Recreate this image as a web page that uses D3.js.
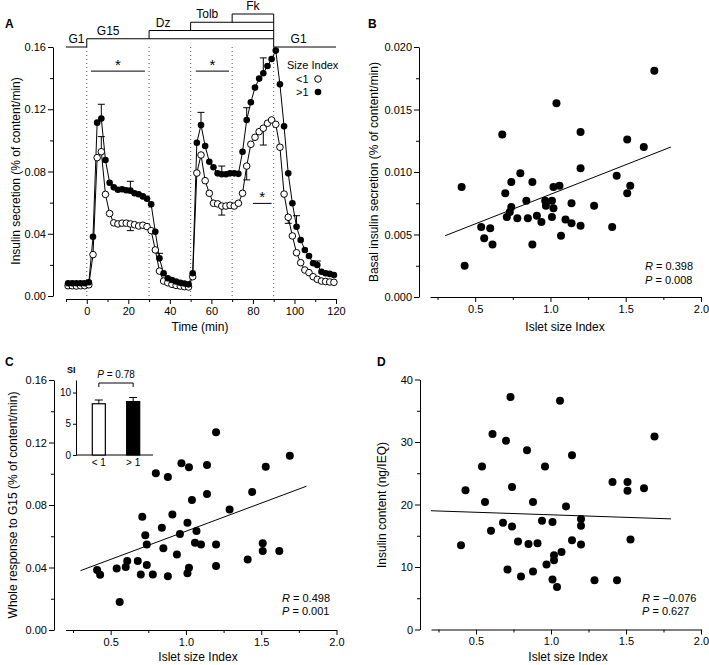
<!DOCTYPE html>
<html><head><meta charset="utf-8">
<script src="https://cdn.jsdelivr.net/npm/d3@7"></script>
<style>
body{margin:0;background:#fff}
svg text{font-family:"Liberation Sans",Arial,sans-serif;fill:#000}
</style>
</head><body>
<svg id="c" width="709" height="665"></svg>
<script>
// ---------- Panel A data ----------
const timeMin = [-9,-7,-5,-3,-1,1,3,5,7,9,11,13,15,17,19,21,23,25,27,29,31,33,35,37,39,41,43,45,47,49,51,53,55,57,59,61,63,65,67,69,71,73,75,77,79,81,83,85,87,89,91,93,95,97,99,101,103,105,107,109,111,113,115,117,119];
const sizeGt1 = [0.0082,0.0082,0.0082,0.0082,0.0082,0.0088,0.038,0.1114,0.114,0.0874,0.0728,0.0698,0.0683,0.0686,0.068,0.0677,0.066,0.0654,0.064,0.0625,0.0589,0.0413,0.0242,0.0146,0.0114,0.0103,0.0093,0.0085,0.008,0.0075,0.0146,0.0985,0.1099,0.0964,0.0863,0.0827,0.0788,0.0782,0.0782,0.0788,0.0788,0.0785,0.0927,0.1131,0.1245,0.1339,0.1397,0.1431,0.1478,0.1523,0.1577,0.136,0.109,0.0788,0.0596,0.0445,0.036,0.0296,0.0257,0.021,0.0199,0.0156,0.0146,0.0142,0.0135];
const sizeLt1 = [0.0066,0.0066,0.0064,0.0066,0.0066,0.0072,0.0266,0.0889,0.0927,0.0653,0.053,0.047,0.0463,0.0468,0.0468,0.0463,0.0458,0.045,0.0455,0.0446,0.042,0.0296,0.016,0.0096,0.0085,0.0075,0.0068,0.0064,0.006,0.0058,0.0124,0.079,0.0906,0.0741,0.066,0.0596,0.0592,0.0578,0.0578,0.0583,0.0578,0.0596,0.066,0.0835,0.0975,0.102,0.1056,0.1078,0.111,0.1131,0.1103,0.0956,0.0655,0.0506,0.0386,0.0278,0.0214,0.0167,0.015,0.0124,0.0107,0.0096,0.0093,0.009,0.0088];
// error bar ends (time, value reached by the bar)
const errGt1Time = [7,21,35,55,65,77,85,101,111];
const errGt1End  = [0.1232,0.0737,0.0274,0.118,0.0835,0.121,0.153,0.0516,0.0225];
const errLt1Time = [7,21,65,77,85,97];
const errLt1End  = [0.1024,0.042,0.052,0.0746,0.097,0.0467];
// protocol
const drugNames  = ["G15","Dz","Tolb","Fk"];
const drugStart  = [0,30,50,70];
const drugLevel  = [1,2,3,4];
const drugEnd    = 90;
const dividers   = [0,30,50,70,90];
// significance bars [start,end,value]
const sigStart = [2,52.5,80];
const sigEnd   = [28,68.5,89];
const sigValue = [0.1445,0.1445,0.0595];

// ---------- Panel B ----------
const bX = [0.41,0.43,0.54,0.56,0.60,0.615,0.70,0.71,0.73,0.74,0.74,0.78,0.80,0.84,0.85,0.88,0.88,0.91,0.94,0.965,0.97,1.01,1.01,1.02,1.02,1.06,1.07,1.10,1.14,1.14,1.20,1.20,1.29,1.41,1.44,1.51,1.53,0.68,1.04,1.20,1.51,1.62,1.69];
const bY = [0.0088,0.0025,0.0056,0.0047,0.0055,0.0042,0.0083,0.0064,0.0068,0.0092,0.0072,0.0063,0.0099,0.0077,0.0063,0.0092,0.0042,0.0065,0.0060,0.0077,0.0073,0.0077,0.0064,0.0088,0.0071,0.0089,0.0049,0.0062,0.0075,0.0059,0.0103,0.0057,0.0073,0.0056,0.0097,0.0083,0.0089,0.0130,0.0155,0.0132,0.0126,0.0120,0.0181];
const bFitX = [0.3,1.8], bFitY = [0.0049,0.0120];

// ---------- Panel C ----------
const cX = [0.41,0.43,0.54,0.56,0.60,0.61,0.68,0.70,0.71,0.73,0.74,0.74,0.78,0.84,0.85,0.88,0.91,0.94,0.96,1.01,1.01,1.02,1.04,1.06,1.07,1.10,1.14,1.20,1.20,1.29,1.41,1.44,1.51,1.51,1.62,0.80,0.88,0.97,1.02,1.14,1.20,1.53,1.69];
const cY = [0.0384,0.0354,0.0393,0.0179,0.0403,0.0442,0.0442,0.0356,0.0725,0.0606,0.0548,0.0416,0.0356,0.0655,0.0523,0.0344,0.0740,0.0484,0.0614,0.0687,0.0363,0.0399,0.0832,0.0559,0.0634,0.0548,0.0870,0.0548,0.0410,0.0772,0.0452,0.0883,0.0555,0.0506,0.0506,0.1003,0.0979,0.1067,0.1041,0.1056,0.1265,0.1045,0.1116];
const cFitX = [0.3,1.8], cFitY = [0.038,0.092];
const siGroups = ["< 1","> 1"], siMean = [8.2,8.55], siErr = [8.8,9.2];

// ---------- Panel D ----------
const dX = [0.40,0.43,0.56,0.60,0.68,0.71,0.74,0.74,0.78,0.80,0.85,0.88,0.88,0.91,0.94,0.97,1.01,1.01,1.02,1.02,1.04,1.07,1.10,1.14,1.20,1.20,1.20,1.29,1.41,1.44,1.51,1.51,1.53,1.62,0.54,0.61,0.70,0.73,0.84,0.96,1.06,1.14,1.69];
const dY = [13.5,22.3,20.4,15.8,17.1,9.6,16.5,22.8,14.1,8.5,13.7,20.4,9.3,13.8,17.4,10.4,17.2,8.0,11.9,11.1,6.8,12.4,19.7,14.3,17.7,16.6,13.6,7.9,23.6,7.9,23.6,22.2,14.4,22.6,26.1,31.3,30.2,37.2,28.7,26.1,36.6,27.9,30.9];
const dFitX = [0.2,1.8], dFitY = [19.0,17.7];

const svg = d3.select("#c");
const FONT = '"Liberation Sans",Arial,sans-serif';

function styleAxis(g, fs){
  g.attr("font-family", FONT).attr("font-size", fs);
  g.selectAll("path,line").attr("stroke","#000").attr("stroke-width",1);
  g.selectAll("text").attr("fill","#000");
}
function yAxis(x, scale, major, minor, fmt, fs=11){
  const g = svg.append("g").attr("transform",`translate(${x},0)`)
    .call(d3.axisLeft(scale).tickValues(major).tickFormat(fmt).tickSize(5).tickSizeOuter(0).tickPadding(2));
  styleAxis(g, fs);
  if(minor){
    const m = svg.append("g").attr("transform",`translate(${x},0)`)
      .call(d3.axisLeft(scale).tickValues(minor).tickFormat("").tickSize(3).tickSizeOuter(0));
    m.select(".domain").remove(); styleAxis(m, fs);
  }
}
function xAxis(y, scale, major, minor, fmt, fs=11){
  const g = svg.append("g").attr("transform",`translate(0,${y})`)
    .call(d3.axisBottom(scale).tickValues(major).tickFormat(fmt).tickSize(5).tickSizeOuter(0).tickPadding(3));
  styleAxis(g, fs);
  if(minor){
    const m = svg.append("g").attr("transform",`translate(0,${y})`)
      .call(d3.axisBottom(scale).tickValues(minor).tickFormat("").tickSize(3).tickSizeOuter(0));
    m.select(".domain").remove(); styleAxis(m, fs);
  }
}
function label(x,y,txt,opts={}){
  const t = svg.append("text").attr("x",x).attr("y",y).attr("font-size",opts.fs||12)
    .attr("text-anchor",opts.anchor||"middle").attr("font-weight",opts.bold?"bold":null).text(txt);
  if(opts.rot) t.attr("transform",`rotate(-90,${x},${y})`);
  return t;
}
function stats(x,y,r,p){
  const t1 = svg.append("text").attr("x",x).attr("y",y).attr("font-size",11);
  t1.append("tspan").attr("font-style","italic").text("R");
  t1.append("tspan").text(" = "+r);
  const t2 = svg.append("text").attr("x",x).attr("y",y+13.5).attr("font-size",11);
  t2.append("tspan").attr("font-style","italic").text("P");
  t2.append("tspan").text(" = "+p);
}
function scatter(xs, ys, sx, sy, fx, fy){
  svg.append("line").attr("x1",sx(fx[0])).attr("y1",sy(fy[0])).attr("x2",sx(fx[1])).attr("y2",sy(fy[1]))
    .attr("stroke","#000").attr("stroke-width",1);
  svg.append("g").selectAll("circle").data(xs.map((v,i)=>[v,ys[i]])).join("circle")
    .attr("cx",d=>sx(d[0])).attr("cy",d=>sy(d[1])).attr("r",4).attr("fill","#000");
}

// ================= Panel A =================
const ax = d3.scaleLinear().domain([-10,120]).range([66,336]);
const ay = d3.scaleLinear().domain([0,0.16]).range([296,47]);
const lvl = d3.scaleLinear().domain([0,4]).range([47,14]);

// dotted dividers
svg.append("g").selectAll("line").data(dividers).join("line")
  .attr("x1",d=>ax(d)).attr("x2",d=>ax(d)).attr("y1",lvl(0)).attr("y2",ay(0))
  .attr("stroke","#555").attr("stroke-width",1).attr("stroke-dasharray","1,3");

// protocol
const prot = svg.append("g").attr("fill","none").attr("stroke","#000").attr("stroke-width",1);
prot.append("line").attr("x1",ax(-10)).attr("x2",ax(0)).attr("y1",lvl(0)).attr("y2",lvl(0));
prot.append("line").attr("x1",ax(drugEnd)).attr("x2",ax(120)).attr("y1",lvl(0)).attr("y2",lvl(0));
drugStart.forEach((s,i)=>{
  prot.append("line").attr("x1",ax(s)).attr("x2",ax(s)).attr("y1",lvl(drugLevel[i]-1)).attr("y2",lvl(drugLevel[i]));
  prot.append("line").attr("x1",ax(s)).attr("x2",ax(drugEnd)).attr("y1",lvl(drugLevel[i])).attr("y2",lvl(drugLevel[i]));
});
prot.append("line").attr("x1",ax(drugEnd)).attr("x2",ax(drugEnd)).attr("y1",lvl(4)).attr("y2",lvl(0));
label(ax(-5), lvl(0)-4, "G1");
label(ax(102), lvl(0)-4, "G1");
const drugLabelAt = [10.3,36.8,58,80];
drugNames.forEach((n,i)=>label(ax(drugLabelAt[i]), lvl(drugLevel[i])-4, n));

// significance
sigStart.forEach((s,i)=>{
  svg.append("line").attr("x1",ax(s)).attr("x2",ax(sigEnd[i])).attr("y1",ay(sigValue[i])).attr("y2",ay(sigValue[i]))
    .attr("stroke","#000").attr("stroke-width",1);
  label((ax(s)+ax(sigEnd[i]))/2, ay(sigValue[i])-1, "*", {fs:15});
});

// axes
yAxis(53, ay, [0,0.04,0.08,0.12,0.16], [0.02,0.06,0.10,0.14], d3.format(".2f"));
xAxis(299, ax, [0,20,40,60,80,100,120], [-10,10,30,50,70,90,110], d3.format("d"));
label(200, 331, "Time (min)");
label(20, 171, "Insulin secretion (% of content/min)", {rot:true});

// lines
const lineA = d3.line().x((d,i)=>ax(timeMin[i])).y(d=>ay(d));
svg.append("path").attr("d",lineA(sizeLt1)).attr("fill","none").attr("stroke","#000").attr("stroke-width",1);
svg.append("path").attr("d",lineA(sizeGt1)).attr("fill","none").attr("stroke","#000").attr("stroke-width",1);

// error bars
function errs(times, ends, series){
  const g = svg.append("g").attr("stroke","#000").attr("stroke-width",1);
  times.forEach((t,i)=>{
    const v = series[timeMin.indexOf(t)];
    g.append("line").attr("x1",ax(t)).attr("x2",ax(t)).attr("y1",ay(v)).attr("y2",ay(ends[i]));
    g.append("line").attr("x1",ax(t)-3.5).attr("x2",ax(t)+3.5).attr("y1",ay(ends[i])).attr("y2",ay(ends[i]));
  });
}
errs(errGt1Time, errGt1End, sizeGt1);
errs(errLt1Time, errLt1End, sizeLt1);

// markers
svg.append("g").selectAll("circle").data(sizeLt1).join("circle")
  .attr("cx",(d,i)=>ax(timeMin[i])).attr("cy",d=>ay(d)).attr("r",3.3)
  .attr("fill","#fff").attr("stroke","#000").attr("stroke-width",1);
svg.append("g").selectAll("circle").data(sizeGt1).join("circle")
  .attr("cx",(d,i)=>ax(timeMin[i])).attr("cy",d=>ay(d)).attr("r",3.3).attr("fill","#000");

// legend
label(287, 69, "Size Index", {fs:11, anchor:"start"});
label(296, 83, "<1", {fs:11, anchor:"start"});
label(296, 96, ">1", {fs:11, anchor:"start"});
svg.append("circle").attr("cx",318).attr("cy",79).attr("r",3.3).attr("fill","#fff").attr("stroke","#000");
svg.append("circle").attr("cx",318).attr("cy",92).attr("r",3.3).attr("fill","#000");
label(5, 28, "A", {bold:true, anchor:"start"});

// ================= Panel B =================
const bx = d3.scaleLinear().domain([0.2,2.0]).range([430,701]);
const by = d3.scaleLinear().domain([0,0.02]).range([297,47]);
yAxis(419, by, [0,0.005,0.010,0.015,0.020], [0.0025,0.0075,0.0125,0.0175], d3.format(".3f"));
xAxis(297, bx, [0.5,1.0,1.5,2.0], [0.25,0.75,1.25,1.75], d3.format(".1f"));
scatter(bX, bY, bx, by, bFitX, bFitY);
stats(645, 270, "0.398", "0.008");
label(565, 331, "Islet size Index");
label(378, 172, "Basal insulin secretion (% of content/min)", {rot:true});
label(368, 28, "B", {bold:true, anchor:"start"});

// ================= Panel C =================
const cx = d3.scaleLinear().domain([0.2,2.0]).range([65.5,336.5]);
const cy = d3.scaleLinear().domain([0,0.16]).range([630,380]);
yAxis(54, cy, [0,0.04,0.08,0.12,0.16], [0.02,0.06,0.10,0.14], d3.format(".2f"));
xAxis(630, cx, [0.5,1.0,1.5,2.0], [0.25,0.75,1.25,1.75], d3.format(".1f"));
scatter(cX, cY, cx, cy, cFitX, cFitY);
stats(282, 601.5, "0.498", "0.001");
label(198, 661, "Islet size Index");
label(17, 505, "Whole response to G15 (% of content/min)", {rot:true});
label(5, 366, "C", {bold:true, anchor:"start"});

// inset
const sx = d3.scaleBand().domain(siGroups).range([82,150]).paddingInner(0.62).paddingOuter(0.3);
const sy = d3.scaleLinear().domain([0,12]).range([455,380]);
const ig = svg.append("g").attr("transform","translate(76,0)")
  .call(d3.axisLeft(sy).tickValues([0,5,10]).tickFormat(d3.format("d")).tickSize(3).tickSizeOuter(0).tickPadding(2));
styleAxis(ig, 10);
svg.append("line").attr("x1",76).attr("x2",153).attr("y1",455).attr("y2",455).attr("stroke","#000");
siGroups.forEach((g,i)=>{
  const xc = sx(g)+sx.bandwidth()/2;
  svg.append("line").attr("x1",xc).attr("x2",xc).attr("y1",sy(siMean[i])).attr("y2",sy(siErr[i])).attr("stroke","#000");
  svg.append("line").attr("x1",xc-4).attr("x2",xc+4).attr("y1",sy(siErr[i])).attr("y2",sy(siErr[i])).attr("stroke","#000");
  svg.append("rect").attr("x",sx(g)).attr("y",sy(siMean[i])).attr("width",sx.bandwidth()).attr("height",sy(0)-sy(siMean[i]))
    .attr("fill",i===0?"#fff":"#000").attr("stroke","#000").attr("stroke-width",1.2);
  label(xc, 466, g, {fs:10});
});
const bx0 = sx(siGroups[0])+sx.bandwidth()/2, bx1 = sx(siGroups[1])+sx.bandwidth()/2;
svg.append("path").attr("d",`M${bx0},387V383H${bx1}V387`).attr("fill","none").attr("stroke","#000");
const pt = svg.append("text").attr("x",(bx0+bx1)/2).attr("y",378).attr("font-size",10).attr("text-anchor","middle");
pt.append("tspan").attr("font-style","italic").text("P");
pt.append("tspan").text(" = 0.78");
label(67, 372.5, "SI", {fs:9, bold:true, anchor:"start"});

// ================= Panel D =================
const dx = d3.scaleLinear().domain([0.2,2.0]).range([431,701]);
const dy = d3.scaleLinear().domain([0,40]).range([629.5,379.5]);
yAxis(420, dy, [0,10,20,30,40], [5,15,25,35], d3.format("d"));
xAxis(629.5, dx, [0.5,1.0,1.5,2.0], [0.25,0.75,1.25,1.75], d3.format(".1f"));
scatter(dX, dY, dx, dy, dFitX, dFitY);
stats(642, 601.5, "\u22120.076", "0.627");
label(568, 661, "Islet size Index");
label(386, 505, "Insulin content (ng/IEQ)", {rot:true});
label(377, 366, "D", {bold:true, anchor:"start"});
</script>
</body></html>
